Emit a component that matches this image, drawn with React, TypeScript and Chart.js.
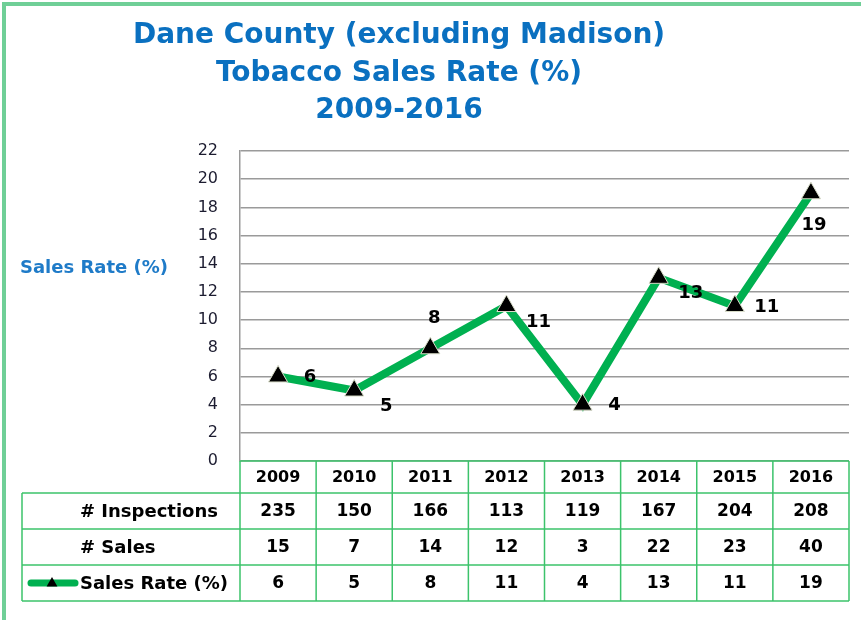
import React, { useEffect, useRef } from 'react';
import { Chart, registerables } from 'chart.js';

Chart.register(...registerables);

const YEARS = ['2009', '2010', '2011', '2012', '2013', '2014', '2015', '2016'];
const SALES_RATE = [6, 5, 8, 11, 4, 13, 11, 19];
const INSPECTIONS = [235, 150, 166, 113, 119, 167, 204, 208];
const SALES = [15, 7, 14, 12, 3, 22, 23, 40];
const Y_MIN = 0;
const Y_MAX = 22;
const Y_STEP = 2;
const TITLE_LINES = ['Dane County (excluding Madison)', 'Tobacco Sales Rate (%)', '2009-2016'];
const Y_TITLE = 'Sales Rate (%)';
const ROW_LABELS = ['# Inspections', '# Sales', 'Sales Rate (%)'];
const LABEL_POS = ['right', 'rightBelow', 'above', 'rightBelow', 'right', 'rightBelow', 'right', 'below'];

const FONT = '"DejaVu Sans", "Open Sans", sans-serif';
const LINE_GREEN = '#00b050';
const TABLE_GREEN = '#3cc36b';
const FRAME_GREEN = '#6fcf97';
const BLUE = '#0a70c0';

function drawTriangle(ctx: CanvasRenderingContext2D, x: number, y: number, r: number) {
  ctx.save();
  ctx.beginPath();
  ctx.moveTo(x, y - r);
  ctx.lineTo(x + r * 0.9, y + r * 0.6);
  ctx.lineTo(x - r * 0.9, y + r * 0.6);
  ctx.closePath();
  ctx.fillStyle = '#000';
  ctx.fill();
  ctx.restore();
}

const customPlugin = {
  id: 'customDraw',
  beforeDraw(chart: any) {
    const ctx = chart.ctx as CanvasRenderingContext2D;
    ctx.save();
    ctx.fillStyle = '#fff';
    ctx.fillRect(0, 0, chart.width, chart.height);
    ctx.strokeStyle = FRAME_GREEN;
    ctx.lineWidth = 4;
    ctx.strokeRect(4, 4, chart.width + 20, chart.height + 20);
    ctx.restore();
  },
  afterDraw(chart: any) {
    const ctx = chart.ctx as CanvasRenderingContext2D;
    const area = chart.chartArea;
    const xs = chart.scales.x;
    const ys = chart.scales.y;
    ctx.save();

    // Title
    ctx.fillStyle = BLUE;
    ctx.font = `bold 28px ${FONT}`;
    ctx.textAlign = 'center';
    ctx.textBaseline = 'middle';
    TITLE_LINES.forEach((t, i) => ctx.fillText(t, 399, 36 + i * 37.5));

    // Y title
    ctx.font = `bold 18px ${FONT}`;
    ctx.textAlign = 'left';
    ctx.fillStyle = '#1f7bc8';
    ctx.fillText(Y_TITLE, 20, 268);

    // Data labels
    ctx.fillStyle = '#000';
    ctx.font = `bold 18px ${FONT}`;
    ctx.textAlign = 'center';
    ctx.textBaseline = 'middle';
    SALES_RATE.forEach((v, i) => {
      const px = xs.getPixelForValue(i);
      const py = ys.getPixelForValue(v);
      const pos = LABEL_POS[i];
      let dx = 0, dy = 0;
      if (pos === 'right') { dx = 32; dy = 1; }
      else if (pos === 'rightBelow') { dx = 32; dy = 16; }
      else if (pos === 'above') { dx = 4; dy = -30; }
      else if (pos === 'below') { dx = 3; dy = 32; }
      ctx.fillText(String(v), px + dx, py + dy);
    });

    // Table
    const left = area.left;
    const right = area.right;
    const colW = (right - left) / YEARS.length;
    const tableLeft = 22;
    const rowsY = [area.bottom, area.bottom + 32, area.bottom + 68, area.bottom + 104, area.bottom + 140];
    ctx.strokeStyle = TABLE_GREEN;
    ctx.lineWidth = 1.5;
    ctx.beginPath();
    ctx.moveTo(left, rowsY[0]);
    ctx.lineTo(right, rowsY[0]);
    for (let r = 1; r < rowsY.length; r++) {
      ctx.moveTo(tableLeft, rowsY[r]);
      ctx.lineTo(right, rowsY[r]);
    }
    ctx.moveTo(tableLeft, rowsY[1]);
    ctx.lineTo(tableLeft, rowsY[4]);
    for (let c = 0; c <= YEARS.length; c++) {
      const x = left + c * colW;
      ctx.moveTo(x, rowsY[0]);
      ctx.lineTo(x, rowsY[4]);
    }
    ctx.stroke();

    ctx.fillStyle = '#000';
    ctx.textAlign = 'center';
    ctx.textBaseline = 'middle';
    const rows = [YEARS, INSPECTIONS, SALES, SALES_RATE];
    rows.forEach((row, r) => {
      ctx.font = r === 0 ? `bold 16px ${FONT}` : `bold 17px ${FONT}`;
      const cy = (rowsY[r] + rowsY[r + 1]) / 2 + 1;
      row.forEach((v, i) => {
        ctx.fillText(String(v), xs.getPixelForValue(i), cy);
      });
    });
    ctx.textAlign = 'left';
    ctx.font = `bold 18px ${FONT}`;
    ROW_LABELS.forEach((lab, r) => {
      const cy = (rowsY[r + 1] + rowsY[r + 2]) / 2 + 1;
      ctx.fillText(lab, 80, cy);
    });
    // legend key
    const ky = (rowsY[3] + rowsY[4]) / 2;
    ctx.strokeStyle = LINE_GREEN;
    ctx.lineWidth = 7;
    ctx.lineCap = 'round';
    ctx.beginPath();
    ctx.moveTo(31, ky);
    ctx.lineTo(75, ky);
    ctx.stroke();
    drawTriangle(ctx, 52, ky, 6);

    ctx.restore();
  },
};

export default function App() {
  const canvasRef = useRef<HTMLCanvasElement | null>(null);

  useEffect(() => {
    if (!canvasRef.current) return;
    const chart = new Chart(canvasRef.current, {
      type: 'line',
      data: {
        labels: YEARS,
        datasets: [
          {
            label: 'Sales Rate (%)',
            data: SALES_RATE,
            borderColor: LINE_GREEN,
            borderWidth: 8,
            pointStyle: 'triangle',
            pointRadius: 11,
            pointBackgroundColor: '#000',
            pointBorderColor: '#d8dcc8',
            pointBorderWidth: 1,
            tension: 0,
            fill: false,
          },
        ],
      },
      options: {
        responsive: true,
        maintainAspectRatio: false,
        animation: false,
        layout: { padding: { top: 151, right: 12, bottom: 159, left: 0 } },
        plugins: {
          legend: { display: false },
          title: { display: false },
          tooltip: { enabled: false },
        },
        scales: {
          x: {
            type: 'category',
            display: false,
            offset: true,
          },
          y: {
            min: Y_MIN,
            max: Y_MAX,
            afterFit: (scale: any) => { scale.width = 240; },
            ticks: {
              stepSize: Y_STEP,
              padding: 22,
              color: '#1c1c30',
              font: { family: FONT, size: 16 },
            },
            grid: { color: '#9a9a9a', lineWidth: 1.5, drawTicks: false },
            border: { display: true, color: '#9a9a9a', width: 1.5 },
          },
        },
      },
      plugins: [customPlugin],
    });
    return () => chart.destroy();
  }, []);

  return (
    <div style={{ position: 'fixed', left: 0, top: 0, width: 861, height: 620, background: '#fff' }}>
      <canvas ref={canvasRef} />
    </div>
  );
}
